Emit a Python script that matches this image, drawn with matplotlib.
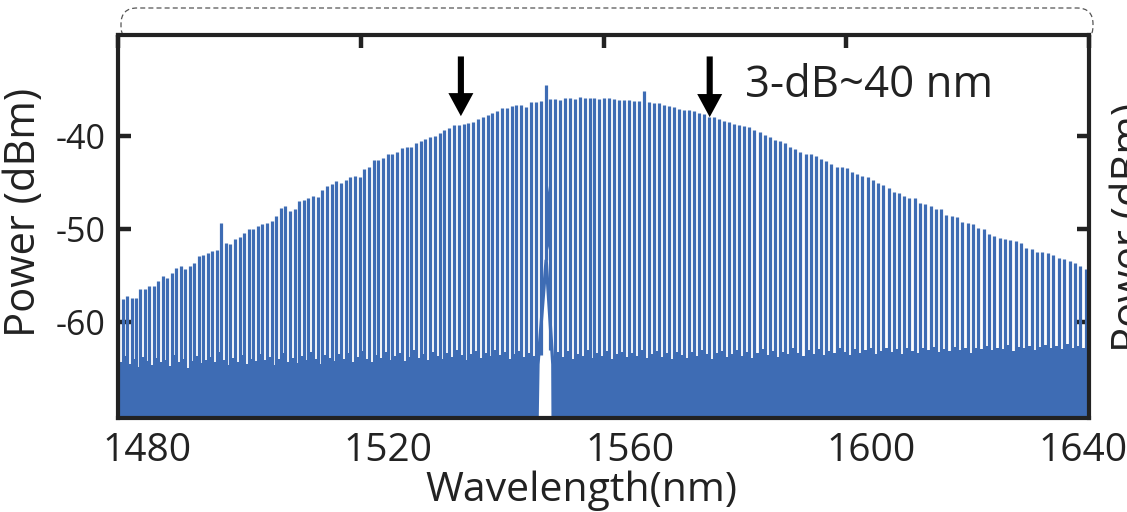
import numpy as np
import matplotlib
matplotlib.use("Agg")
import matplotlib.pyplot as plt
from matplotlib.transforms import ScaledTranslation
from matplotlib.patches import FancyBboxPatch

plt.rcParams['font.family'] = ['Open Sans', 'DejaVu Sans']
plt.rcParams['axes.unicode_minus'] = False

# ---------------- data ----------------
C_NM_THZ = 299792.458
PUMP_NM = 1550.45          # pump wavelength
FSR_THZ = 0.1              # comb line spacing (100 GHz)
mode_numbers = np.arange(92, -106, -1)   # comb modes, short -> long wavelength

peak_dbm = [
    -57.4, -57.5, -57.2, -57.4, -57.4, -56.4, -56.4, -56.1, -56.1, -55.6,
    -55.0, -55.2, -54.7, -54.2, -54.0, -54.3, -54.0, -53.6, -52.9, -52.8,
    -52.6, -52.4, -52.2, -49.3, -51.5, -51.6, -51.1, -50.8, -50.4, -50.0,
    -50.0, -49.7, -49.5, -49.3, -49.1, -48.6, -47.7, -47.5, -48.1, -47.8,
    -47.0, -46.9, -46.7, -46.5, -46.6, -45.8, -45.4, -45.2, -44.9, -45.1,
    -44.7, -44.4, -44.3, -44.4, -43.6, -43.3, -42.6, -42.6, -42.4, -42.0,
    -42.0, -41.7, -41.3, -41.2, -41.2, -40.8, -40.6, -40.4, -40.1, -40.0,
    -39.7, -39.4, -39.2, -38.9, -38.8, -38.7, -38.6, -38.5, -38.2, -38.0,
    -37.8, -37.6, -37.3, -37.0, -37.0, -36.8, -36.7, -36.7, -36.9, -36.4,
    -36.4, -36.3, -34.55, -36.1, -36.1, -36.2, -36.0, -36.0, -36.1, -35.8,
    -36.0, -36.0, -35.9, -36.1, -35.9, -36.0, -36.1, -36.2, -36.2, -36.2,
    -36.25, -36.3, -35.15, -36.4, -36.5, -36.5, -36.7, -36.8, -36.9, -37.1,
    -37.2, -37.2, -37.4, -37.6, -37.7, -38.0, -38.0, -38.2, -38.4, -38.5,
    -38.7, -38.9, -39.0, -39.1, -39.4, -39.6, -39.9, -40.1, -40.5, -40.6,
    -40.8, -41.2, -41.4, -41.7, -42.0, -42.0, -42.2, -42.5, -42.7, -43.0,
    -43.3, -43.4, -43.5, -43.9, -44.1, -44.3, -44.4, -44.7, -45.1, -45.3,
    -45.6, -46.0, -46.1, -46.5, -46.7, -46.7, -47.2, -47.3, -47.5, -47.9,
    -47.8, -48.5, -48.6, -48.7, -49.2, -49.3, -49.5, -49.9, -50.0, -50.5,
    -50.7, -51.0, -51.1, -51.2, -51.3, -51.5, -52.0, -52.1, -52.5, -52.5,
    -52.6, -52.8, -53.1, -53.2, -53.4, -53.6, -54.0, -54.3,
]

nan = float('nan')
# noise floor in the gap after each comb line (nan = notch next to the pump)
floor_dbm = [
    -64.2, -63.6, -64.5, -63.9, -64.8, -63.7, -64.1, -64.6, -63.8, -64.3,
    -64.0, -64.7, -63.5, -64.2, -63.9, -64.9, -64.1, -63.6, -64.4, -64.0,
    -63.7, -64.3, -63.2, -64.0, -64.6, -63.8, -64.2, -63.5, -64.5, -63.9,
    -64.1, -63.4, -64.0, -63.7, -64.6, -63.9, -63.3, -64.2, -63.8, -64.4,
    -63.6, -64.0, -63.2, -63.9, -64.5, -63.5, -63.8, -64.1, -63.4, -63.9,
    -63.3, -64.2, -63.7, -63.1, -63.9, -64.3, -63.5, -63.8, -63.2, -64.0,
    -63.6, -63.3, -64.1, -63.7, -63.0, -63.8, -63.4, -64.0, -63.2, -63.6,
    -63.9, -63.3, -63.7, -63.0, -63.5, -64.0, -63.4, -63.1, -63.8, -63.3,
    -63.6, -63.0, -63.5, -63.2, -63.9, -63.4, -63.1, -63.7, -63.3, -63.6,
    nan, nan, nan, nan, -63.2, -63.7, -63.1, -63.9, -63.4, -63.6,
    -63.0, -63.8, -63.3, -63.6, -63.1, -63.9, -63.4, -63.2, -63.7, -63.3,
    -63.6, -63.0, -63.8, -63.4, -63.1, -63.7, -63.3, -63.9, -63.2, -63.5,
    -63.8, -63.2, -63.6, -63.0, -63.4, -63.9, -63.3, -63.1, -63.7, -63.4,
    -63.0, -63.6, -63.2, -63.8, -63.3, -62.9, -63.5, -63.1, -63.7, -63.2,
    -63.4, -62.8, -63.3, -63.6, -63.0, -63.4, -62.9, -63.5, -63.1, -63.3,
    -62.8, -63.2, -63.5, -62.9, -63.3, -63.0, -62.7, -63.4, -63.1, -62.8,
    -63.2, -62.9, -63.4, -62.7, -63.1, -63.3, -62.8, -63.0, -62.6, -63.2,
    -62.9, -63.1, -62.6, -63.0, -62.8, -63.3, -62.7, -62.9, -62.5, -63.0,
    -62.7, -62.9, -62.4, -63.1, -62.6, -62.8, -62.5, -63.0, -62.6, -62.4,
    -62.8, -62.5, -62.9, -62.3, -62.7, -62.5, -62.8, -62.4,
]

# lines inside the pump notch end above the bottom
notch_modes = [1, 0, -1]
notch_base_dbm = [-63.5, -53.3, -63.0]
# wings of the pump around the notch
pump_wing_nm = [1549.05, 1549.2, 1550.55, 1551.65, 1551.7]
pump_wing_dbm = [-70.5, -64.5, -53.3, -64.5, -70.5]
# broad pedestal just right of the pump
pedestal_nm = [1550.4, 1550.75, 1551.35, 1551.35, 1550.55]
pedestal_dbm = [-44.7, -44.9, -47.5, -51.0, -53.0]

arrow_nm = [1536.5, 1577.5]
arrow_tip_dbm = [-37.9, -38.0]
arrow_tail_dbm = -31.5

x_ticks = [1480, 1520, 1560, 1600, 1640]
y_ticks = [-40, -50, -60]
XLIM = (1480, 1640)
YLIM = (-70.2, -29.2)

# ---------------- figure ----------------
BLUE = '#3e6cb4'
DARK = '#222222'

fig = plt.figure(figsize=(11.27, 5.12), dpi=100)
ax = fig.add_axes([118 / 1127, 94.5 / 512, 971 / 1127, 382.5 / 512])

lam = C_NM_THZ / (C_NM_THZ / PUMP_NM + mode_numbers * FSR_THZ)
peaks = np.array(peak_dbm)
floor = np.array(floor_dbm)
base = np.full(lam.shape, YLIM[0] - 1)
for m, b in zip(notch_modes, notch_base_dbm):
    base[mode_numbers == m] = b

widths = np.diff(np.append(lam, lam[-1] + 1.0))
ok = ~np.isnan(floor)
ax.bar(lam[ok], floor[ok] - (YLIM[0] - 1), bottom=YLIM[0] - 1, width=widths[ok],
       align='edge', color=BLUE, linewidth=0, zorder=3)
ax.vlines(lam, base, peaks, colors=BLUE, linewidth=2.3, zorder=3.2)
ax.plot(pump_wing_nm, pump_wing_dbm, color=BLUE, linewidth=2.4, zorder=3.2,
        solid_joinstyle='miter')
ax.fill(pedestal_nm, pedestal_dbm, color=BLUE, linewidth=0, zorder=3.2)

ax.set_xlim(*XLIM)
ax.set_ylim(*YLIM)

for sp in ax.spines.values():
    sp.set_linewidth(3.0)
    sp.set_color(DARK)
    sp.set_zorder(5)
ax.xaxis.set_zorder(2.5)
ax.yaxis.set_zorder(2.5)

ax.set_xticks(x_ticks)
ax.set_yticks(y_ticks)
ax.tick_params(axis='x', which='major', direction='in', bottom=False, top=True,
               length=9, width=3.2, color=DARK, labelsize=28, pad=10.5,
               labelcolor='#222222')
ax.tick_params(axis='y', which='major', direction='in', left=True, right=True,
               length=9, width=3.2, color=DARK, labelsize=24.5, pad=9,
               labelcolor='#222222')

offsets_px = [29, 27, 27, 25, -6]
for lab, dx in zip(ax.get_xticklabels(), offsets_px):
    lab.set_transform(lab.get_transform() +
                      ScaledTranslation(dx / 100, 0, fig.dpi_scale_trans))

ax.set_xlabel('Wavelength(nm)', fontsize=29.5, color='#222222')
ax.xaxis.set_label_coords(0.477, -0.138)
ax.set_ylabel('Power (dBm)', fontsize=30, color='#222222')
ax.yaxis.set_label_coords(-0.075, 0.535)

for xa, yt in zip(arrow_nm, arrow_tip_dbm):
    ax.annotate('', xy=(xa, yt), xytext=(xa, arrow_tail_dbm),
                arrowprops=dict(arrowstyle='simple,head_length=0.83,head_width=0.9,tail_width=0.22',
                                color='black', lw=0, shrinkA=0, shrinkB=0,
                                mutation_scale=20),
                zorder=6)

ax.text(1583.3, -35.8, '3-dB~40 nm', fontsize=31.5, color='#222222',
        ha='left', va='baseline', zorder=6)

# dashed rounded bracket above the panel
box = FancyBboxPatch((1.21, 4.70), 9.72, 0.34,
                     boxstyle='round,pad=0,rounding_size=0.16',
                     transform=fig.dpi_scale_trans, fill=False,
                     edgecolor='#555555', linewidth=0.9, linestyle=(0, (4, 2.5)),
                     zorder=-1)
fig.patches.append(box)

# clipped label of the neighbouring panel
fig.text(1110 / 1127, 0.555, 'Power (dBm)', rotation=90, ha='left', va='center',
         fontsize=30, color='#222222')

fig.savefig('out.png', dpi=100)
